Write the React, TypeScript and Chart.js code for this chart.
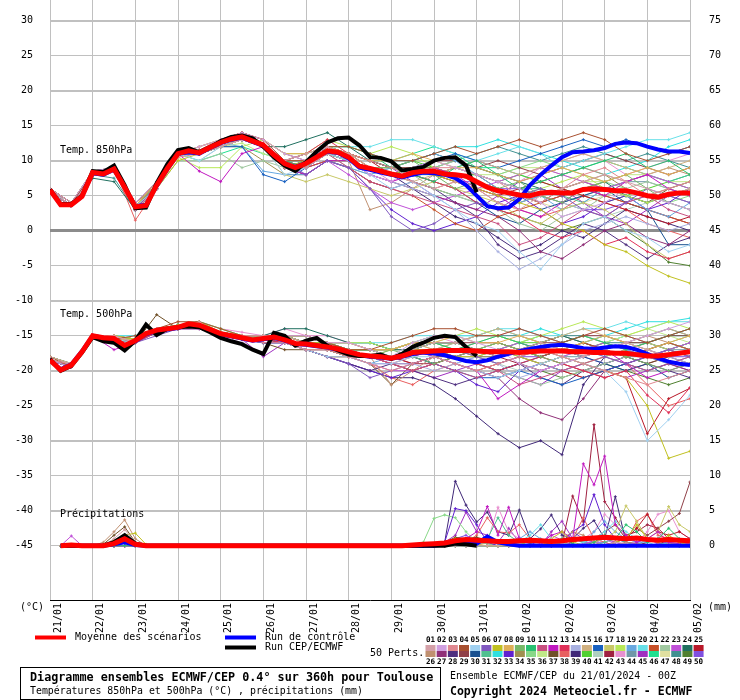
import React, { useEffect, useRef } from "react";
import { Chart, registerables } from "chart.js";

Chart.register(...registerables);

// ---------- axis / labels ----------
const dayLabels = ["21/01","22/01","23/01","24/01","25/01","26/01","27/01","28/01","29/01","30/01","31/01","01/02","02/02","03/02","04/02","05/02"];
const tempTicks = [-45,-40,-35,-30,-25,-20,-15,-10,-5,0,5,10,15,20,25,30];
const precipTicks = [0,5,10,15,20,25,30,35,40,45,50,55,60,65,70,75];
const MAIN_STEP = 6;   // hours between points of mean / control / run
const PERT_STEP = 12;  // hours between points of the perturbations
const PRECIP_START = 6;

// ---------- mean / control / deterministic run ----------
const mean850 = [
  5.8,3.7,3.7,4.9,8.3,8.1,8.8,6.2,3.4,3.6,
  6.5,8.9,11.0,11.4,11.1,11.9,12.6,13.1,13.4,12.8,
  12.2,10.8,9.6,9.0,9.6,10.5,11.4,11.2,10.5,9.2,
  8.9,8.5,8.1,7.8,8.3,8.5,8.5,8.1,8.0,7.8,
  7.0,6.2,5.7,5.4,5.1,5.0,5.4,5.5,5.4,5.4,
  5.9,6.0,5.9,5.7,5.7,5.4,5.0,4.8,5.2,5.4,
  5.4];
const run850 = [
  5.9,3.8,3.8,5.0,8.5,8.4,9.3,6.5,3.2,3.3,
  6.8,9.5,11.5,11.8,11.2,11.9,12.8,13.4,13.6,13.2,
  12.0,10.5,9.3,8.5,9.8,11.3,12.6,13.2,13.3,12.2,
  10.5,10.4,9.9,8.6,8.8,9.1,10.0,10.4,10.5,9.3,
  5.5];
const ctrl850 = [
  5.8,3.7,3.7,4.9,8.2,8.0,8.7,6.2,3.5,3.7,
  6.4,8.8,11.0,11.2,11.0,11.8,12.5,13.0,13.3,12.7,
  12.1,10.7,9.5,9.1,9.7,10.6,11.3,11.1,10.3,9.0,
  8.7,8.3,8.0,7.6,8.0,8.3,8.2,8.0,7.5,6.5,
  5.0,3.5,3.2,3.3,4.5,6.5,8.0,9.3,10.5,11.2,
  11.3,11.5,11.8,12.4,12.6,12.5,12.0,11.6,11.3,11.3,
  11.1];
const mean500 = [
  -18.5,-19.9,-19.2,-17.3,-15.0,-15.3,-15.4,-16.4,-15.7,-14.7,
  -14.2,-14.0,-13.8,-13.3,-13.5,-14.1,-14.7,-15.0,-15.3,-15.6,
  -15.4,-15.2,-15.6,-16.1,-16.2,-16.4,-16.6,-16.9,-17.3,-17.7,
  -17.9,-18.0,-18.2,-17.9,-17.4,-17.3,-17.2,-17.1,-17.1,-17.1,
  -17.2,-17.3,-17.3,-17.3,-17.4,-17.3,-17.2,-17.2,-17.2,-17.3,
  -17.3,-17.4,-17.4,-17.5,-17.5,-17.7,-17.9,-17.9,-17.7,-17.5,
  -17.3];
const run500 = [
  -18.3,-20.0,-19.3,-17.4,-15.2,-15.8,-16.0,-17.1,-15.7,-13.4,
  -14.9,-14.0,-13.8,-13.7,-13.8,-14.5,-15.3,-15.8,-16.2,-17.0,
  -17.6,-14.6,-15.0,-16.4,-15.7,-15.3,-16.4,-17.1,-17.7,-17.9,
  -17.9,-17.7,-18.3,-17.6,-16.6,-16.0,-15.3,-15.0,-15.2,-16.6,
  -17.9];
const ctrl500 = [
  -18.5,-19.8,-19.1,-17.2,-15.0,-15.3,-15.5,-16.5,-15.8,-14.8,
  -14.3,-14.1,-13.9,-13.4,-13.6,-14.2,-14.8,-15.1,-15.4,-15.7,
  -15.5,-15.3,-15.7,-16.2,-16.3,-16.5,-16.7,-17.0,-17.4,-17.8,
  -18.0,-18.1,-18.3,-18.0,-17.6,-17.4,-17.5,-17.8,-18.2,-18.6,
  -18.8,-18.5,-18.0,-17.6,-17.2,-16.9,-16.6,-16.4,-16.3,-16.5,
  -16.8,-16.9,-16.7,-16.5,-16.6,-17.0,-17.6,-18.2,-18.7,-19.0,
  -19.2];
const meanPrecip = [
  0,0.1,0,0,0,0.3,1.0,0.2,0,0,
  0,0,0,0,0,0,0,0,0,0,
  0,0,0,0,0,0,0,0,0,0,
  0,0,0,0.1,0.2,0.3,0.4,0.7,0.9,0.8,
  0.7,0.6,0.6,0.7,0.8,0.7,0.6,0.7,0.9,1.0,
  1.1,1.2,1.1,1.0,1.1,0.9,0.8,0.9,0.8,0.7];
const runPrecip = [
  0,0,0,0,0,0.5,1.5,0.3,0,0,
  0,0,0,0,0,0,0,0,0,0,
  0,0,0,0,0,0,0,0,0,0,
  0,0,0,0,0,0,0,0.3,0.2,0];
const ctrlPrecip = [
  0,0,0,0,0,0.2,0.5,0.1,0,0,
  0,0,0,0,0,0,0,0,0,0,
  0,0,0,0,0,0,0,0,0,0,
  0,0,0,0,0,0,0.2,0.4,0.3,0.3,
  1.3,0.5,0.2,0,0,0,0,0,0,0,
  0,0,0,0,0,0,0,0,0,0];

// ---------- 50 perturbations ----------
const pertColors = [
  "#d4a0a8","#d0a0e0","#e08890","#a85030","#a0d0f0","#8058c0","#c0c020","#e0b058","#78b868","#28c070",
  "#c85080","#c018c0","#e03058","#a8b0e0","#d0b080","#1860c0","#c8c868","#b8e858","#68a8e0","#68e0e8",
  "#c85028","#a0c8a0","#c050d8","#207060","#b81828",
  "#c09070","#903078","#503080","#904048","#185090","#50c090","#30e0e0","#6020d0","#a09050","#88d888",
  "#c0e888","#705028","#e86060","#402878","#50d030","#b0d0c0","#a02040","#e890d0","#7098a8","#a030c0",
  "#20e090","#e0e0a0","#409090","#508030","#8050e0"];

const pert850 = [
  [6,3.5,8,9,3,6,11,11,12,13,12, 10,11,12,11,9,8,7,6,7,6, 4,3,5,6,7,8,7,6,5,6],
  [6,4,8.5,9,4,7,11,12,13,14,13, 11,10,12,10,8,7,9,10,9,8, 7,6,4,2,3,4,6,5,4,3],
  [5.5,3.5,8,8.5,3,6,10.5,11,12,13,12, 9,9,11,11,10,9,8,9,9,8, 7,5,4,6,8,9,7,5,6,7],
  [6,4,8,9,4,7,11,11.5,13,14,13, 10,10,12,12,11,10,10,11,12,11, 12,13,12,13,14,13,11,10,11,12],
  [6,3.5,8,9,3.5,6,11,10,12,13,12, 8,9,11,10,8,6,7,5,3,1, 0,-3,-5.5,-2,1,2,0,-1,-3,-2],
  [5.5,3.5,8.5,9,3,6.5,11,11,13,13,12, 10,8,10,9,6,2,0,1,3,4, 3,5,6,5,3,2,4,6,5,4],
  [6,4,8,8.5,3.5,6,10,11,12,13,12, 9,10,12,11,9,8,9,8,7,6, 5,4,3,1,0,-2,-3,-5,-6.5,-7.5],
  [6,4,8,9,3.5,7,11,12,13,14,13, 11,11,12,11,10,10,11,10,9,9, 8,7,8,9,8,7,8,9,8,9],
  [6,3.5,8,9,3.5,6.5,11,11,12.5,13,12, 9,10,11,10,9,9,10,8,6,7, 6,7,5,4,6,7,8,6,4,3],
  [5.5,3.5,8,9,3,6,11,11,12,13,12, 10,9,12,12,11,9,8,7,9,10, 8,6,7,8,9,10,11,9,10,8],
  [6,4,8.5,9,3.5,6.5,11,11,13,13.5,12, 9,10,11,9,7,6,5,4,3,2, 1,-2,-1,1,3,2,4,5,3,2],
  [6,3.5,8,9,3,6,11,8.5,7,11,12, 9,8,10,10,8,7,8,9,8,6, 5,3,2,4,6,5,7,8,6,5],
  [6,3.5,8,9,3,6.5,11,11.5,13,14,12.5, 10,11,13,11,9,8,8,7,6,4, 3,2,0,-1,0,-2,-1,-3,-4,-3],
  [6,4,8,9,3.5,6,11,11,12,13,12, 9,9,11,10,8,7,6,5,3,0, -3,-5.5,-4,-2,0,1,2,1,0,1],
  [6,4,8,9,4,7,11,12,13,13.5,12, 10,10,11,10,9,8,7,8,9,10, 9,8,9,10,11,10,9,8,9,10],
  [5.5,3.5,8,8.5,3,6,11,11,12,12,8, 7,9,11,10,9,8,9,10,11,10, 9,10,11,12,13,12,13,12,11,12],
  [6,4,8,9,3.5,6.5,11,11,12,13,12, 8,7,8,7,6,5,6,7,6,5, 4,2,1,3,4,3,1,-2,-4,-3],
  [6,4,8.5,9,3.5,6.5,10.5,9,9,12,13, 11,11,13,12,11,12,11,9,8,7, 6,5,6,7,8,6,5,4,5,6],
  [6,3.5,8,9,3.5,6,11,11,12.5,12,8.5, 8,8,10,9,8,9,10,11,10,8, 6,4,5,3,4,6,5,3,2,4],
  [6,4,8,9,3.5,6.5,11,11,13,13,12, 10,11,12,12,12,13,13,12,11,10, 11,12,11,9,10,11,12,13,13,14],
  [6,4,8,9,4,7,11,11.5,12.5,13.5,12, 10,9,10,9,7,6,5,3,1,0, 2,3,4,5,6,5,4,3,2,1],
  [6,3.5,8,8.5,3,6,10,10,11,9,10, 9,10,11,9,8,9,8,6,5,5, 3,1,0,2,3,5,6,7,6,5],
  [6,4,8,9,3.5,6,11,11,12,13,12, 10,9,10,8,6,4,3,4,5,6, 7,8,9,8,7,6,7,8,7,6],
  [6,3.5,7.5,7,3,6,11,11,12,13,12, 12,13,14,12,10,9,10,11,10,9, 8,7,6,5,6,7,5,4,5,6],
  [6,4,8,9,3.5,6.5,11,11,13,13,12, 9,10,12,11,10,8,9,8,7,6, 5,6,7,6,5,4,3,2,1,2],
  [6,4,8.5,9,4,6.5,11,12,13,14,12.5, 10,11,12,10,3,4,6,8,9,8, 7,6,7,8,9,8,7,8,9,8],
  [6,3.5,8,9,3,6,11,11,12,13,12, 9,9,11,10,8,7,6,5,4,3, 2,0,-3,-4,-2,0,1,-1,-2,0],
  [5.5,3.5,8,9,3,6,11,11,12,13,12, 9,8,10,9,7,6,7,6,4,2, -2,-4,-3,-1,1,0,-2,-4,-2,-1],
  [6,4,8,9,3.5,7,11,11,13,14,13, 11,10,12,11,10,9,9,10,10,9, 10,9,8,9,10,11,10,9,8,9],
  [6,4,8,9,3.5,6.5,11,11,12,13,12, 9,10,11,10,9,8,8,7,6,4, 2,1,3,4,5,6,4,3,-2,-2],
  [6,4,8,9,4,6.5,11,11,12.5,13,12, 10,10,12,11,9,8,8,8,9,8, 7,6,6,5,4,6,7,8,7,8],
  [6,3.5,8,9,3,6,11,11,13,13,12, 10,10,12,12,11,10,10,11,12,12, 13,12,11,10,9,8,9,10,12,13],
  [6,3.5,8,9,3,6,11,11,12,13,12, 9,9,10,9,6,3,1,0,1,2, 4,5,3,1,2,4,5,3,4,6],
  [6,4,8,9,3.5,6.5,11,11,12,12,10, 8,8,10,10,9,8,9,9,8,7, 5,4,5,6,7,8,6,5,6,7],
  [6,4,8.5,9,4,7,11,11,13,13.5,12, 10,10,11,11,10,9,9,9,10,9, 8,9,10,9,8,7,6,5,4,5],
  [6,4,8,9,3.5,6,11,11,12,12.5,11, 10,11,12,10,9,9,10,10,9,8, 8,9,9,8,7,7,8,8,7,7],
  [6,3.5,8,9,3,6,11,11,12,13,12, 9,8,10,10,9,9,9,8,9,8, 6,5,4,6,7,6,5,4,6,5],
  [6,3.5,8,9,1.5,6,11,11,12,13,12, 9,9,11,11,9,8,7,6,7,6, 4,3,2,3,5,4,3,1,0,-1],
  [6,3.5,8,9,3.5,6,11,11,12,13,12, 9,10,11,10,9,8,6,4,2,1, -1,-3,-2,0,-1,1,3,2,1,0],
  [6,4,8,9,3.5,6.5,11,11,13,13,12, 10,11,12,11,10,9,10,9,8,8, 7,8,7,6,5,4,5,6,7,6],
  [6,3.5,8,8.5,3,6,10,10,12,13,12, 9,10,11,10,8,7,6,5,5,4, 3,4,5,4,3,2,3,4,5,4],
  [6,4,8,9,3.5,6.5,11,11,13,13,12, 10,10,12,11,10,9,8,9,8,7, 6,5,4,5,6,5,4,3,2,1],
  [6,4,8,9,3.5,6.5,11,11.5,13,14,13, 10,11,12,10,9,7,8,9,10,9, 8,7,9,10,11,10,8,9,10,11],
  [6,4,8,9,3.5,6.5,11,11,12,13,12, 9,9,11,10,9,9,9,9,8,8, 7,6,5,4,5,6,7,7,6,7],
  [6,3.5,8,9,3,6,11,11,12,13,12, 10,9,11,11,10,9,7,5,4,3, 5,7,8,6,4,2,1,3,5,4],
  [6,4,8,9,3.5,6.5,11,10,11,12,11, 10,10,11,11,10,10,11,12,11,9, 9,8,7,8,9,10,9,8,7,8],
  [6,4,8,9,3.5,7,11,12,13,14,13, 11,11,12,11,10,9,8,7,6,6, 6,5,4,3,4,5,6,5,4,3],
  [5.5,3.5,8,7.5,3,6,11,11,12,13,12, 9,9,11,10,9,8,8,9,10,11, 12,11,10,11,12,11,10,11,10,9],
  [6,3.5,8,9,3,6,11,11,12,13,12, 9,10,11,10,9,8,7,6,5,4, 3,2,1,0,1,2,0,-2,-4.5,-5],
  [6,4,8,9,3.5,6.5,11,11,12.5,13,12, 10,10,12,11,10,9,9,8,7,7, 6,6,5,4,3,3,4,5,4,3]];

const pert500 = [
  [-18,-19,-15,-15,-16,-14,-14,-13,-15,-15,-15, -15,-16,-17,-17,-18,-18,-17,-16,-16,-17, -18,-17,-16,-17,-18,-17,-16,-17,-18,-17],
  [-18.5,-19.5,-15,-16,-16,-14,-14,-14,-15,-16,-15, -15,-15,-16,-16,-17,-18,-16,-15,-15,-16, -17,-19,-20,-19,-18,-17,-16,-15,-14,-13],
  [-18.5,-19,-15,-15,-16,-14,-14,-13.5,-15,-15,-16, -16,-17,-17,-18,-19,-20,-19,-18,-19,-20, -19,-18,-17,-18,-19,-20,-21,-22,-21,-20],
  [-18,-19.5,-15,-15.5,-15,-14,-13,-13,-14,-15,-15, -15,-15,-16,-17,-17,-16,-15,-14,-14,-15, -15,-14,-15,-16,-15,-14,-15,-16,-15,-14],
  [-18.5,-19,-15,-15.5,-16,-14,-14,-13.5,-15,-15,-15, -16,-17,-18,-18,-19,-19,-18,-18,-19,-20, -21,-20,-19,-18,-19,-20,-23,-30,-27,-23.5],
  [-18.5,-19.5,-15,-16,-16,-15,-14,-14,-15,-15.5,-16, -16,-17,-18,-19,-21,-20,-19,-18,-17,-18, -19,-18,-17,-16,-17,-18,-19,-18,-17,-18],
  [-18,-19,-15,-15,-15.5,-14,-13.5,-13,-14.5,-15,-15, -15,-16,-16,-17,-17,-18,-17,-17,-18,-18, -17,-18,-19,-18,-19,-20,-21,-25,-32.5,-31.5],
  [-18.5,-19,-15,-15,-15.5,-14,-14,-13.5,-14.5,-15,-15, -15,-15,-16,-16,-17,-17,-16,-16,-15,-16, -16,-15,-16,-17,-16,-15,-16,-17,-16,-15],
  [-18.5,-19.5,-15,-15.5,-16,-14,-14,-13.5,-15,-15.5,-15, -15,-16,-17,-18,-18,-17,-18,-19,-18,-17, -16,-17,-18,-19,-18,-17,-18,-19,-20,-19],
  [-18,-19,-15,-15,-15.5,-14,-13.5,-13.5,-14.5,-15,-15, -15,-16,-16,-17,-17,-18,-17,-16,-17,-16, -15,-16,-17,-16,-15,-16,-17,-16,-15,-14],
  [-18.5,-19.5,-15,-15.5,-16,-14.5,-14,-13.5,-15,-15,-15, -16,-16,-17,-18,-18,-19,-20,-19,-20,-21, -20,-22,-21,-20,-19,-18,-19,-20,-19,-18],
  [-18.5,-19,-15,-17,-16,-14,-14,-13.5,-15,-15,-15, -15,-16,-16,-17,-18,-18,-17,-18,-19,-20, -24,-22,-20,-19,-18,-17,-19,-21,-20,-19],
  [-18.5,-19.5,-15,-15.5,-16,-14,-14,-13.5,-15,-15,-15.5, -16,-16,-17,-18,-18,-19,-18,-17,-18,-19, -20,-19,-18,-19,-20,-21,-20,-23.5,-26,-22.4],
  [-18,-19,-15,-15,-15.5,-14,-13.5,-13.5,-14.5,-15,-15, -15,-16,-17,-17,-18,-19,-19,-20,-19,-18, -19,-21,-20,-19,-18,-17,-16,-17,-18,-19],
  [-18.5,-19,-15,-15.5,-15.5,-14,-14,-13.5,-14.5,-15,-15, -15,-15,-16,-16,-17,-17,-16,-17,-16,-15, -14,-15,-16,-15,-14,-15,-16,-15,-14,-15],
  [-18.5,-19.5,-15,-15.5,-16,-14,-14,-13.5,-15,-15,-16, -16,-16,-16,-17,-17,-18,-18,-19,-20,-21, -21,-20,-21,-22,-21,-20,-19,-20,-19,-19],
  [-18,-19,-15,-15.5,-15.5,-14,-14,-13.5,-15,-15,-15, -16,-17,-17,-18,-18,-17,-16,-17,-17,-18, -19,-18,-17,-18,-19,-18,-17,-16,-17,-18],
  [-18.5,-19,-15,-15,-15.5,-14,-13.5,-13,-14,-15,-15, -15,-15,-16,-16,-16,-17,-16,-15,-15,-14, -15,-16,-15,-14,-13,-14,-15,-14,-13,-14],
  [-18.5,-19.5,-15,-15.5,-16,-14,-14,-13.5,-15,-15.5,-16, -16,-17,-17,-18,-19,-18,-17,-18,-19,-18, -17,-18,-19,-20,-19,-18,-17,-18,-19,-18],
  [-18,-19,-15,-15,-15,-14,-13.5,-13,-14,-15,-15, -15,-15,-16,-16,-16,-16,-15,-15,-15,-15, -14,-14,-15,-15,-14,-14,-13,-14,-13,-13],
  [-18.5,-19.5,-15,-15.5,-16,-14.5,-14,-14,-15,-15.5,-15, -16,-17,-18,-18,-18,-19,-20,-19,-18,-19, -18,-17,-18,-17,-16,-17,-18,-17,-16,-17],
  [-18.5,-19,-15,-15.5,-15.5,-14,-14,-13.5,-15,-15,-15, -15,-16,-16,-17,-17,-18,-18,-17,-18,-19, -20,-21,-22,-21,-20,-19,-18,-17,-16,-17],
  [-18,-19,-15,-15,-16,-14,-14,-13.5,-14.5,-15,-15, -15,-16,-17,-18,-19,-20,-20,-19,-18,-17, -17,-16,-17,-18,-17,-16,-17,-18,-17,-16],
  [-18.5,-19.5,-15,-16,-16,-14,-13.5,-13.5,-14.5,-15,-15, -14,-14,-15,-16,-16,-17,-17,-16,-16,-17, -18,-17,-16,-15,-16,-17,-18,-17,-16,-17],
  [-18.5,-19,-15,-15.5,-16,-14,-14,-13.5,-15,-15,-15, -15,-16,-17,-17,-18,-18,-19,-18,-19,-20, -19,-18,-19,-20,-21,-20,-21,-29,-24,-22.5],
  [-18,-19,-15,-15,-15.5,-14,-14,-13,-14.5,-15,-15, -15,-16,-16,-17,-18,-22,-20,-18,-17,-16, -16,-17,-16,-15,-16,-17,-16,-15,-16,-17],
  [-18.5,-19.5,-15,-15.5,-16,-14,-14,-13.5,-15,-15,-15.5, -16,-16,-17,-18,-18,-19,-19,-18,-19,-20, -21,-24,-26,-27,-24,-20,-19,-18,-19,-20],
  [-18.5,-19,-15,-15.5,-16,-14.5,-14,-13.5,-15,-15.5,-16, -16,-17,-18,-19,-20,-19,-20,-21,-22,-21, -20,-19,-21,-22,-20,-19,-18,-19,-20,-21],
  [-18,-19,-15,-15,-15.5,-14,-13.5,-13.5,-14.5,-15,-15, -15,-15,-16,-16,-17,-17,-16,-16,-16,-16, -16,-17,-16,-16,-15,-15,-16,-16,-15,-15],
  [-18.5,-19.5,-15,-15.5,-16,-14,-14,-13.5,-15,-15,-15, -16,-16,-17,-17,-18,-18,-18,-19,-18,-19, -20,-19,-18,-17,-18,-19,-20,-19,-21,-20],
  [-18.5,-19,-15,-15,-15.5,-14,-14,-13.5,-14.5,-15,-15, -15,-16,-16,-17,-17,-18,-17,-17,-16,-17, -17,-16,-17,-17,-18,-17,-16,-16,-17,-16],
  [-18,-19,-15,-15,-15,-14,-13.5,-13,-14,-15,-15, -15,-15,-16,-16,-16,-17,-16,-15,-15,-15, -14,-15,-14,-15,-16,-15,-14,-13,-13,-12.5],
  [-18.5,-19.5,-15,-15.5,-16,-14.5,-14,-14,-15,-15.5,-16, -16,-17,-18,-19,-20,-21,-20,-19,-20,-22, -23,-20,-19,-18,-19,-20,-19,-18,-17,-18],
  [-18.5,-19,-15,-15.5,-16,-14,-14,-13.5,-15,-15,-15.5, -16,-16,-17,-17,-18,-18,-17,-18,-17,-18, -18,-17,-18,-19,-18,-17,-18,-17,-18,-17],
  [-18,-19,-15,-15,-15.5,-14,-13.5,-13.5,-14.5,-15,-15, -15,-15,-16,-17,-17,-17,-16,-16,-17,-17, -16,-17,-18,-17,-16,-15,-16,-17,-16,-15],
  [-18.5,-19,-15,-15,-15.5,-14,-14,-13.5,-14.5,-15,-15, -15,-16,-16,-16,-17,-17,-16,-16,-15,-16, -15,-16,-17,-16,-15,-16,-15,-14,-15,-16],
  [-18.5,-19.5,-15,-15.5,-16,-12,-14,-13.5,-15,-15.5,-16, -17,-17,-18,-18,-19,-22,-19,-18,-18,-17, -16,-17,-18,-17,-16,-17,-18,-19,-18,-17],
  [-18.5,-19,-15,-15.5,-16,-14,-14,-13.5,-15,-15,-15, -16,-16,-17,-18,-19,-21,-22,-20,-19,-20, -21,-20,-19,-20,-21,-20,-19,-22,-25,-24],
  [-18.5,-19.5,-15,-15.5,-16,-14,-14,-13.5,-15,-15,-15.5, -16,-17,-18,-19,-20,-21,-21,-22,-24,-26.5, -29,-31,-30,-32,-22,-18,-17,-16,-17,-18],
  [-18,-19,-15,-15,-15.5,-14,-13.5,-13.5,-14.5,-15,-15, -15,-16,-16,-17,-17,-17,-16,-16,-16,-17, -17,-16,-16,-17,-17,-16,-17,-18,-17,-16],
  [-18.5,-19,-15,-15.5,-16,-14,-14,-13.5,-15,-15,-15, -15,-16,-17,-17,-18,-18,-17,-17,-18,-18, -19,-20,-19,-18,-17,-18,-19,-18,-17,-16],
  [-18.5,-19.5,-15,-15.5,-16,-14,-14,-13.5,-15,-15.5,-15.5, -16,-17,-17,-18,-18,-18,-19,-19,-18,-17, -18,-19,-20,-19,-20,-21,-20,-19,-18,-19],
  [-18,-19,-15,-15,-15.5,-14,-13.5,-13,-14,-14.5,-15, -14,-15,-15,-16,-16,-17,-16,-15,-16,-15, -15,-14,-15,-16,-15,-14,-15,-16,-15,-14],
  [-18.5,-19,-15,-15.5,-15.5,-14,-14,-13.5,-15,-15,-15, -15,-16,-17,-17,-17,-18,-17,-17,-17,-18, -18,-17,-17,-18,-18,-17,-18,-18,-17,-17],
  [-18.5,-19.5,-15,-15.5,-16,-14.5,-14,-14,-15,-15.5,-18, -16,-17,-17,-18,-19,-19,-20,-21,-20,-19, -20,-21,-22,-20,-19,-20,-21,-20,-19,-20],
  [-18,-19,-15,-15,-15.5,-14,-13.5,-13.5,-14.5,-15,-15, -15,-15,-16,-16,-16,-17,-16,-16,-16,-15, -15,-16,-15,-16,-17,-16,-15,-16,-15,-15],
  [-18.5,-19,-15,-15,-15.5,-14,-14,-13.5,-14.5,-15,-15, -15,-15,-16,-16,-17,-17,-17,-16,-17,-18, -17,-18,-19,-18,-17,-16,-17,-18,-17,-16],
  [-18.5,-19.5,-15,-15.5,-16,-14,-14,-13.5,-15,-15,-15, -15,-16,-16,-17,-17,-17,-17,-16,-16,-15, -15,-15,-16,-15,-15,-16,-16,-15,-14,-15],
  [-18.5,-19,-15,-15.5,-16,-14,-14,-13.5,-15,-15,-15.5, -16,-16,-17,-18,-18,-18,-18,-19,-18,-19, -20,-19,-20,-21,-20,-19,-20,-21,-22,-21],
  [-18,-19,-15,-15,-15.5,-14,-13.5,-13.5,-14.5,-15,-15, -15,-16,-17,-17,-18,-18,-17,-17,-18,-18, -19,-18,-18,-17,-18,-19,-18,-17,-18,-18]];

// precipitation of the perturbations that show some (6 h steps, from +6 h)
const pertPrecipMembers = [1,7,10,12,17,19,20,23,25,26,29,31,33,35,37,38,39,42,43,45,50];
const pertPrecip = [
  [0,0,0,0,0,1.0,2.3,0.5,0,0, 0,0,0,0,0,0,0,0,0,0, 0,0,0,0,0,0,0,0,0,0, 0,0,0,0,0,0,0,0,0,0, 0,0,0,0.3,0,0.5,1.0,0.3,0,0, 0,0,0.5,0.3,0,0,0,0,0,0],
  [0,0,0,0,0,0.8,1.5,1.8,0.2,0, 0,0,0,0,0,0,0,0,0,0, 0,0,0,0,0,0,0,0,0,0, 0,0,0,0,0,0,0.5,1.0,0.6,0.2, 0,0,0.3,0.5,0,0,1.0,2.0,0.6,0, 0,0,0.5,1.0,3.0,1.0,0.5,1.5,0.5,0],
  [0,0,0,0,0,0,0,0,0,0, 0,0,0,0,0,0,0,0,0,0, 0,0,0,0,0,0,0,0,0,0, 0,0,0,0,0,0,0,0,0,0, 0,0,0,0,0,0,0.5,1.0,0.3,0, 0.5,1.5,1.0,3.0,2.0,0.5,1.0,2.5,1.0,0.5],
  [0,0,0,0,0,0,0,0,0,0, 0,0,0,0,0,0,0,0,0,0, 0,0,0,0,0,0,0,0,0,0, 0,0,0,0,0,0,0,0.5,1.0,2.0, 5.6,1.5,5.5,1.0,0.5,0.3,1.5,2.0,1.0,11.7, 8.7,12.8,3.0,1.5,0.5,1.0,2.0,0.5,0.3,0.2],
  [0,0,0,0,0,0,0,0,0,0, 0,0,0,0,0,0,0,0,0,0, 0,0,0,0,0,0,0,0,0,0, 0,0,0,0,0,0,0,0,0,0, 0,0,0,0,0,0.5,1.0,0.5,0,0, 0.5,1.0,2.0,5.7,3.5,1.0,2.0,5.6,3.0,2.0],
  [0,0,0,0,0,0,0,0,0,0, 0,0,0,0,0,0,0,0,0,0, 0,0,0,0,0,0,0,0,0,0, 0,0,0,0,0,0,0,0,0,0, 0,0,0.5,1.0,2.0,1.0,0.5,0,0,0, 2.0,3.5,2.0,1.0,0.5,0.5,1.0,0.5,0.3,1.0],
  [0,0,0,0,0,0,0,0,0,0, 0,0,0,0,0,0,0,0,0,0, 0,0,0,0,0,0,0,0,0,0, 0,0,0,0,0,0,0,0,0,0, 0,0,0,0.5,1.5,3.0,1.0,0.5,0,0.5, 1.0,2.0,3.5,2.0,1.0,0.5,0,0.5,1.0,0.5],
  [0,1.4,0,0,0,0,0,0,0,0, 0,0,0,0,0,0,0,0,0,0, 0,0,0,0,0,0,0,0,0,0, 0,0,0,0,0,0,0,0,0,0, 0,0,0.5,1.2,0,0.5,1.5,0.8,0,0.3, 0.5,1.0,0.2,0,0.5,1.0,0.3,0,0,0.2],
  [0,0,0,0,0,0,0,0,0,0, 0,0,0,0,0,0,0,0,0,0, 0,0,0,0,0,0,0,0,0,0, 0,0,0,0,0,0,0,0,0,0, 0,0,0,0,0,0,0,0,0,0, 0,0,0.5,1.0,2.5,4.5,2.0,1.5,2.0,1.0],
  [0,0,0,0,0.5,2.0,3.7,1.0,0,0, 0,0,0,0,0,0,0,0,0,0, 0,0,0,0,0,0,0,0,0,0, 0,0,0,0,0,0,0,0.3,0.5,0.2, 0.5,0.3,0,0,0,0,0.5,1.0,2.0,1.5, 0.5,0,0,0.5,0.3,0,0,0.4,0.2,0],
  [0,0,0,0,0,0,0,0,0,0, 0,0,0,0,0,0,0,0,0,0, 0,0,0,0,0,0,0,0,0,0, 0,0,0,0,0,0,0,0,0,0, 0,0,0,0,0,0,0,0,0.5,1.0, 1.0,2.0,3.0,1.0,2.5,1.5,2.5,3.5,4.6,9.1],
  [0,0,0,0,0,0,0,0,0,0, 0,0,0,0,0,0,0,0,0,0, 0,0,0,0,0,0,0,0,0,0, 0,0,0,0,0,0,0.3,0.5,1.0,0.5, 1.0,4.0,1.5,0.5,0,0,0,0.5,1.0,0.5, 0,0.5,1.0,0.5,0,1.0,0.5,0,0,0],
  [0,0,0,0,0,0,0,0,0,0, 0,0,0,0,0,0,0,0,0,0, 0,0,0,0,0,0,0,0,0,0, 0,0,0,0,0,0,0.5,5.3,5.0,3.0, 0.5,0,0,1.0,0.5,0,0,0.5,2.0,3.0, 7.3,3.0,1.0,0.5,0,0,0.3,0.5,0,0],
  [0,0,0,0,0,0,0,0,0,0, 0,0,0,0,0,0,0,0,0,0, 0,0,0,0,0,0,0,0,0,0, 0,0,0,0,0.5,3.9,4.4,4.0,2.0,0.5, 0.3,0,0,0,0,0,0,0,0,0, 0,0,0,0,0,0,0,0,0,0],
  [0,0,0,0,0.2,1.5,2.7,0.5,0,0, 0,0,0,0,0,0,0,0,0,0, 0,0,0,0,0,0,0,0,0,0, 0,0,0,0,0,0,0.5,1.2,1.0,1.2, 0.8,0.5,0,0,0.3,0,0,0,0,0, 0,0,0,0,0,0.5,0.8,0,0,0],
  [0,0,0,0,0,0,0,0,0,0, 0,0,0,0,0,0,0,0,0,0, 0,0,0,0,0,0,0,0,0,0, 0,0,0,0,0,0,0,0,0.5,1.5, 4.0,2.0,1.8,3.0,1.0,0.5,0,0.5,1.0,4.0, 1.0,0.5,0,0.5,3.5,4.5,1.5,1.0,0.5,0.3],
  [0,0,0,0,0,0,0,0,0,0, 0,0,0,0,0,0,0,0,0,0, 0,0,0,0,0,0,0,0,0,0, 0,0,0,0,0,0,0.5,9.2,5.8,3.4, 4.8,2.0,1.5,5.1,1.0,2.4,4.4,1.5,1.0,2.5, 3.6,1.0,7.0,0.5,0.3,0,0,0,0,0],
  [0,0,0,0,0,0,0,0,0,0, 0,0,0,0,0,0,0,0,0,0, 0,0,0,0,0,0,0,0,0,0, 0,0,0,0,0,0,0,0,0,0, 0,0,0,0,0,0,0,0.3,7.1,3.4, 17.3,6.3,4.0,1.5,2.0,3.0,2.5,1.0,0.5,0.3],
  [0,0,0,0,0,0,0,0,0,0, 0,0,0,0,0,0,0,0,0,0, 0,0,0,0,0,0,0,0,0,0, 0,0,0,0,0,0,0,0,0,0, 0.5,5.5,2.0,1.0,0.5,0,0,0,0.5,1.0, 2.0,4.5,3.0,1.0,0.5,2.0,4.5,5.0,2.0,1.0],
  [0,0,0,0,0,0,0,0,0,0, 0,0,0,0,0,0,0,0,0,0, 0,0,0,0,0,0,0,0,0,0, 0,0,0,0,0,0,0.5,1.5,4.8,2.0, 1.5,0.5,2.5,0.5,0,0,2.0,3.5,1.0,0.5, 0.5,1.0,0.5,0,0,0.5,1.0,0.5,0,0],
  [0,0,0,0,0,0,0,0,0,0, 0,0,0,0,0,0,0,0,0,0, 0,0,0,0,0,0,0,0,0,0, 0,0,0,0,0,0,0.3,1.0,1.5,0.5, 0.3,0,0,0.5,1.0,0,0,0.5,2.0,1.0, 0.5,0.5,0,0,0,0,0,0,0,0]];

// ---------- helpers ----------
const FONT = '"DejaVu Sans Mono", "Liberation Mono", monospace';
const toPts = (vals: number[], step: number, start = 0) =>
  vals.map((v, i) => ({ x: start + i * step, y: v }));

function buildDatasets() {
  const ds: any[] = [];
  const main = (data: number[], step: number, start: number, color: string, width: number, order: number, axis: string) => ({
    data: toPts(data, step, start), borderColor: color, backgroundColor: color, borderWidth: width,
    pointRadius: 0, order, yAxisID: axis, fill: false, tension: 0,
  });
  ds.push(main(mean850, MAIN_STEP, 0, "#ff0000", 5, 0, "y"));
  ds.push(main(mean500, MAIN_STEP, 0, "#ff0000", 5, 0, "y"));
  ds.push(main(meanPrecip, MAIN_STEP, PRECIP_START, "#ff0000", 5, 0, "y2"));
  ds.push(main(run850, MAIN_STEP, 0, "#000000", 4, 1, "y"));
  ds.push(main(run500, MAIN_STEP, 0, "#000000", 4, 1, "y"));
  ds.push(main(runPrecip, MAIN_STEP, PRECIP_START, "#000000", 4, 1, "y2"));
  ds.push(main(ctrl850, MAIN_STEP, 0, "#0000ff", 4, 2, "y"));
  ds.push(main(ctrl500, MAIN_STEP, 0, "#0000ff", 4, 2, "y"));
  ds.push(main(ctrlPrecip, MAIN_STEP, PRECIP_START, "#0000ff", 4, 2, "y2"));
  const pert = (data: number[], step: number, start: number, color: string, axis: string) => ({
    data: toPts(data, step, start), borderColor: color, backgroundColor: color, borderWidth: 1,
    pointRadius: 1.5, pointHitRadius: 0, pointStyle: "cross", pointBorderWidth: 1, pointBorderColor: color,
    order: 3, yAxisID: axis, fill: false, tension: 0,
  });
  for (let i = 0; i < pert850.length; i++) {
    ds.push(pert(pert850[i], PERT_STEP, 0, pertColors[i], "y"));
    ds.push(pert(pert500[i], PERT_STEP, 0, pertColors[i], "y"));
  }
  pertPrecipMembers.forEach((m, k) => {
    ds.push(pert(pertPrecip[k], MAIN_STEP, PRECIP_START, pertColors[m - 1], "y2"));
  });
  return ds;
}

const textPlugin = {
  id: "meteoTexts",
  afterDraw(chart: any) {
    const ctx = chart.ctx as CanvasRenderingContext2D;
    const area = chart.chartArea;
    ctx.save();
    ctx.fillStyle = "#000";
    ctx.textBaseline = "middle";
    ctx.textAlign = "left";
    ctx.font = `10px ${FONT}`;
    // panel labels
    ctx.fillText("Temp. 850hPa", area.left + 10, 150);
    ctx.fillText("Temp. 500hPa", area.left + 10, 314.5);
    ctx.fillText("Précipitations", area.left + 10, 514);
    // units
    ctx.fillText("(°C)", 20, 607);
    ctx.fillText("(mm)", 708, 607);
    // legend
    const leg = (x: number, y: number, color: string) => {
      ctx.strokeStyle = color; ctx.lineWidth = 4;
      ctx.beginPath(); ctx.moveTo(x, y); ctx.lineTo(x + 31, y); ctx.stroke();
    };
    leg(35, 637.5, "#ff0000");
    ctx.fillText("Moyenne des scénarios", 75, 637.5);
    leg(225, 637.5, "#0000ff");
    ctx.fillText("Run de contrôle", 265, 637.5);
    leg(225, 647.5, "#000000");
    ctx.fillText("Run CEP/ECMWF", 265, 647.5);
    ctx.fillText("50 Perts.", 370, 653);
    // perturbation colour grid
    ctx.textAlign = "center";
    ctx.font = `bold 7.6px ${FONT}`;
    for (let i = 0; i < 25; i++) {
      const x = 425.5 + i * 11.17;
      ctx.fillStyle = pertColors[i];
      ctx.fillRect(x, 645, 10, 6);
      ctx.fillStyle = pertColors[i + 25];
      ctx.fillRect(x, 651, 10, 6);
      ctx.fillStyle = "#000";
      ctx.fillText(String(i + 1).padStart(2, "0"), x + 5, 640.5);
      ctx.fillText(String(i + 26).padStart(2, "0"), x + 5, 662.5);
    }
    // title box
    ctx.strokeStyle = "#000"; ctx.lineWidth = 1;
    ctx.strokeRect(20.5, 667.5, 420, 32);
    ctx.textAlign = "left";
    ctx.font = `bold 11.75px ${FONT}`;
    ctx.fillText("Diagramme ensembles ECMWF/CEP 0.4° sur 360h pour Toulouse", 30, 678);
    ctx.font = `9.9px ${FONT}`;
    ctx.fillText("Températures 850hPa et 500hPa (°C) , précipitations (mm)", 30, 691.5);
    ctx.font = `9.9px ${FONT}`;
    ctx.fillText("Ensemble ECMWF/CEP du 21/01/2024 - 00Z", 450, 676);
    ctx.font = `bold 11.5px ${FONT}`;
    ctx.fillText("Copyright 2024 Meteociel.fr - ECMWF", 450, 692);
    ctx.restore();
  },
};

export default function App() {
  const ref = useRef<HTMLCanvasElement | null>(null);
  useEffect(() => {
    if (!ref.current) return;
    const tickFont = { family: FONT, size: 10 };
    const chart = new Chart(ref.current, {
      type: "line",
      data: { datasets: buildDatasets() },
      plugins: [textPlugin],
      options: {
        responsive: false,
        animation: false,
        devicePixelRatio: 1,
        events: [],
        layout: { padding: 0, autoPadding: false },
        plugins: { legend: { display: false }, tooltip: { enabled: false }, title: { display: false } },
        scales: {
          x: {
            type: "linear", position: "bottom", min: 0, max: 360,
            afterBuildTicks: (s: any) => { s.ticks = dayLabels.map((_, i) => ({ value: i * 24 })); },
            afterFit: (s: any) => { s.height = 100; s.paddingLeft = 0; s.paddingRight = 0; },
            ticks: {
              autoSkip: false, minRotation: 90, maxRotation: 90, padding: 3, labelOffset: 8,
              color: "#000", font: tickFont,
              callback: (v: any) => dayLabels[Math.round(Number(v) / 24)] ?? "",
            },
            grid: { color: "#c0c0c0", lineWidth: 1, drawTicks: false },
            border: { display: true, color: "#000", width: 1 },
          },
          y: {
            type: "linear", position: "left", min: -52.75, max: 32.95,
            afterBuildTicks: (s: any) => { s.ticks = tempTicks.map((v) => ({ value: v })); },
            afterFit: (s: any) => { s.width = 50; s.paddingTop = 0; s.paddingBottom = 0; },
            ticks: { padding: 17, color: "#000", font: tickFont, callback: (v: any) => String(v) },
            grid: {
              drawTicks: false,
              color: (c: any) => (c.tick && c.tick.value === 0 ? "#8c8c8c" : "#c0c0c0"),
              lineWidth: (c: any) => (c.tick && c.tick.value === 0 ? 3 : c.tick && c.tick.value % 10 === 0 ? 2 : 1),
            },
            border: { display: false },
          },
          y2: {
            type: "linear", position: "right", min: -7.75, max: 77.95,
            afterBuildTicks: (s: any) => { s.ticks = precipTicks.map((v) => ({ value: v })); },
            afterFit: (s: any) => { s.width = 50; s.paddingTop = 0; s.paddingBottom = 0; },
            ticks: { padding: 19, color: "#000", font: tickFont, callback: (v: any) => String(v) },
            grid: { display: false, drawTicks: false },
            border: { display: false },
          },
        },
      } as any,
    });
    return () => chart.destroy();
  }, []);
  return (
    <div style={{ position: "absolute", left: 0, top: 0, width: 740, height: 700, background: "#fff" }}>
      <canvas ref={ref} width={740} height={700} style={{ display: "block" }} />
    </div>
  );
}
